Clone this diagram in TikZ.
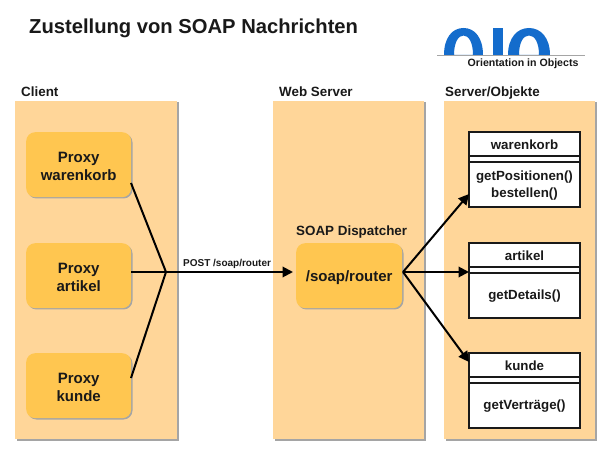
\documentclass[tikz,border=0pt]{standalone}
\usepackage{fontspec}
\setmainfont{Liberation Sans}
\usetikzlibrary{arrows.meta}
\definecolor{panelc}{RGB}{255,214,153}
\definecolor{proxyc}{RGB}{255,198,80}
\definecolor{logoc}{RGB}{20,108,204}
\definecolor{shadowc}{RGB}{165,165,165}
\definecolor{textc}{RGB}{25,25,25}
\newcommand{\dn}[1]{\raisebox{-2pt}[\height][\depth]{#1}}
\tikzset{
  x=1pt,y=-1pt,
  panel/.style={fill=panelc,draw=none,inner sep=0,anchor=north west},
  lbl/.style={font=\bfseries\fontsize{13.4}{15}\selectfont,text=textc,inner sep=0,anchor=base west},
  proxy/.style={fill=proxyc,draw=none,rounded corners=9pt,minimum width=105pt,minimum height=65pt,inner sep=0,anchor=north west,align=center,
     font=\bfseries\fontsize{15}{18}\selectfont,text=textc},
  pshadow/.style={fill=shadowc,draw=none,rounded corners=9pt},
  wire/.style={draw=black,line width=2pt},
  arrow/.style={wire,-{Triangle[length=10.5pt,width=10.5pt]}},
  cbox/.style={draw=textc,line width=1.1pt,fill=white},
  ctext/.style={font=\bfseries\fontsize{13.3}{17}\selectfont,text=textc,inner sep=0,align=center}
}
\newcommand{\panelbox}[5]{%
  \fill[shadowc] (#1+1.5,#2+1.5) rectangle (#3+1.5,#4+1.5);
  \node[panel,minimum width=#3pt-#1pt,minimum height=#4pt-#2pt] (#5) at (#1,#2) {};}
\newcommand{\classbox}[5]{% y, name, nodeid, text
  \draw[cbox] (469,#1) rectangle (580,#1+75);
  \draw[textc,line width=1.1pt] (469,#1+24) -- (580,#1+24) (469,#1+30) -- (580,#1+30);
  \coordinate (#3) at (469,#1+#5);
  \node[ctext] (#3t) at (524.5,#1+13) {#2};
  \node[ctext] (#3m) at (524.5,#1+53.5) {#4};}
\begin{document}
\begin{tikzpicture}
\useasboundingbox (0,0) rectangle (605,454);
\fill[white] (0,0) rectangle (605,454);
\node[font=\bfseries\fontsize{20.2}{22}\selectfont,text=textc,inner sep=0,anchor=base west] (title) at (29,33.5) {Zustellung von SOAP Nachrichten};
% logo
\fill[logoc,even odd rule] (444,55) .. controls (444,38) and (452,28) .. (463.5,28) .. controls (475,28) and (483,38) .. (483,55) -- cycle
  (454,55) .. controls (454,43) and (458,35.5) .. (463.5,35.5) .. controls (469,35.5) and (473,43) .. (473,55) -- cycle;
\fill[logoc,even odd rule] (508,55) .. controls (508,38) and (517,28) .. (529,28) .. controls (541,28) and (550,38) .. (550,55) -- cycle
  (519,55) .. controls (519,43) and (523,35.5) .. (529,35.5) .. controls (535,35.5) and (539,43) .. (539,55) -- cycle;
\fill[logoc] (493,28) rectangle (503,55);
\draw[shadowc,line width=1.5pt] (437,55.7) -- (585,55.7);
\node[font=\bfseries\fontsize{10.6}{11}\selectfont,text=textc,inner sep=0,anchor=base west] (slogan) at (467.5,67) {Orientation in Objects};
% labels
\node[lbl] (lc) at (21,97) {Client};
\node[lbl] (lw) at (279,97) {Web Server};
\node[lbl] (ls) at (445,97) {Server/Objekte};
% panels
\panelbox{15}{101}{177}{439}{pc}
\panelbox{273}{101}{424}{439}{pw}
\panelbox{444}{101}{595}{439}{ps}
% proxies
\fill[pshadow] (27.5,133.5) rectangle (132.5,198.5);
\fill[pshadow] (27.5,244.5) rectangle (132.5,309.5);
\fill[pshadow] (27.5,354.5) rectangle (132.5,419.5);
\fill[pshadow] (297.5,244.5) rectangle (403.5,309.5);
\node[proxy] (p1) at (26,132) {\dn{Proxy}\\\dn{warenkorb}};
\node[proxy] (p2) at (26,243) {\dn{Proxy}\\\dn{artikel}};
\node[proxy] (p3) at (26,353) {\dn{Proxy}\\\dn{kunde}};
\node[proxy,minimum width=106pt] (router) at (296,243) {\dn{/soap/router}};
\node[font=\bfseries\fontsize{13.4}{14}\selectfont,text=textc,inner sep=0,anchor=base west] (disp) at (296,236) {SOAP Dispatcher};
% class boxes
\classbox{132}{warenkorb}{c1}{getPositionen()\\bestellen()}{62}
\classbox{243}{artikel}{c2}{getDetails()}{29}
\classbox{353}{kunde}{c3}{getVerträge()}{9}
% connectors
\coordinate (j) at (166,272);
\coordinate (p1e) at (131,183);
\coordinate (p3e) at (131,378);
\coordinate (rj) at (403,272);
\coordinate (rin) at (293,272);
\draw[wire] (p1e) -- (j);
\draw[wire] (p3e) -- (j);
\draw[wire] (p2.east|-j) -- (j);
\draw[arrow] (j) -- (rin);
\node[font=\bfseries\fontsize{10}{11}\selectfont,text=textc,inner sep=0,anchor=base west] (post) at (183,267) {POST /soap/router};
\draw[arrow] (rj) -- (c1);
\draw[arrow] (rj) -- (c2);
\draw[arrow] (rj) -- (c3);
\end{tikzpicture}
\end{document}
